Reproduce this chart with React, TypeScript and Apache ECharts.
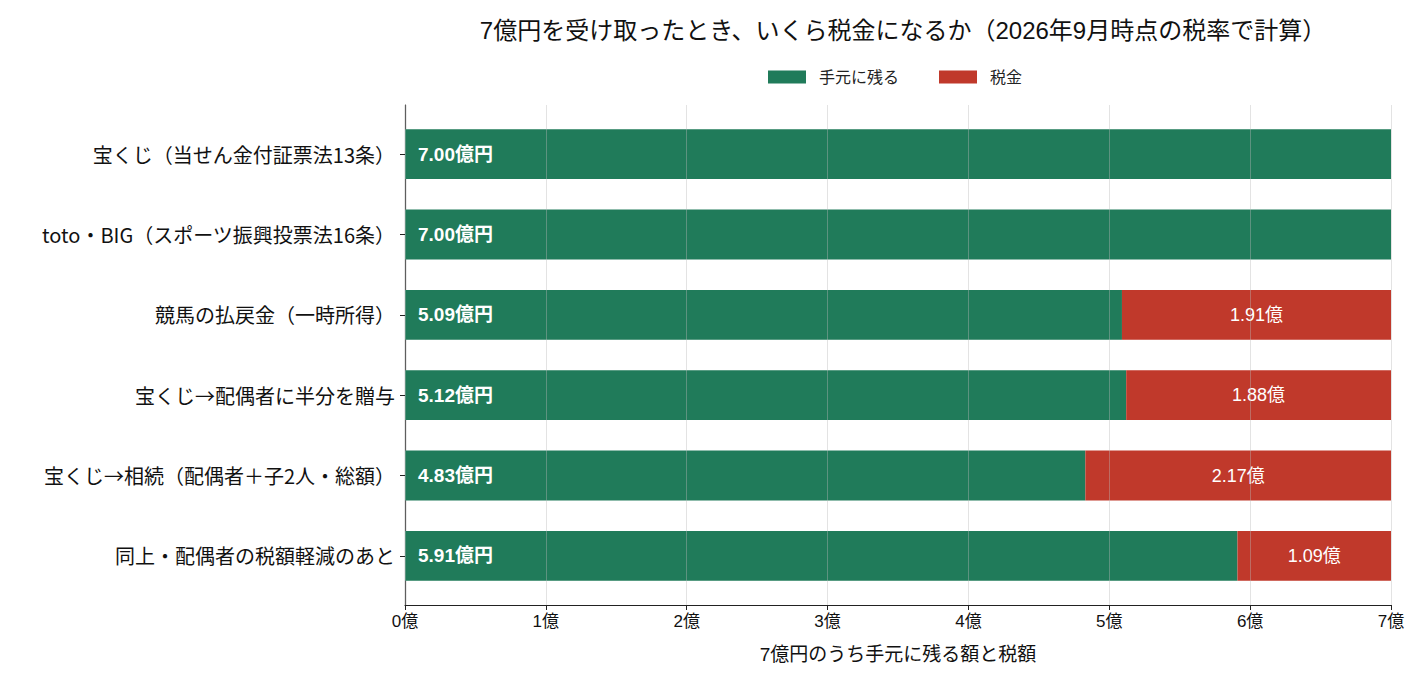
import React, { useEffect, useRef } from 'react';
import * as echarts from 'echarts';

const categories = [
  '宝くじ（当せん金付証票法13条）',
  'toto・BIG（スポーツ振興投票法16条）',
  '競馬の払戻金（一時所得）',
  '宝くじ→配偶者に半分を贈与',
  '宝くじ→相続（配偶者＋子2人・総額）',
  '同上・配偶者の税額軽減のあと',
];
const netValues = [7.0, 7.0, 5.09, 5.12, 4.83, 5.91];
const taxValues = [0, 0, 1.91, 1.88, 2.17, 1.09];
const seriesNames = ['手元に残る', '税金'];
const xMax = 7;

// Helvetica-like latin + CJK fallback
const FONT = '"Liberation Sans", "Noto Sans CJK JP", sans-serif';
// CJK first so the arrows stay full-width
const CJK_FONT = '"Noto Sans CJK JP", "Liberation Sans", sans-serif';
const GREEN = '#207b5a';
const RED = '#c0392b';

export default function App() {
  const chartRef = useRef<HTMLDivElement>(null);

  useEffect(() => {
    if (!chartRef.current) return;
    const chart = echarts.init(chartRef.current, null, { renderer: 'svg' });

    chart.setOption({
      animation: false,
      backgroundColor: '#fff',
      textStyle: { fontFamily: FONT },
      title: {
        text: '7億円を受け取ったとき、いくら税金になるか（2026年9月時点の税率で計算）',
        left: 898,
        textAlign: 'center',
        top: 13,
        textStyle: { fontFamily: FONT, fontSize: 24, fontWeight: 'normal', color: '#111' },
      },
      legend: {
        data: seriesNames,
        top: 64,
        left: 763,
        itemWidth: 38,
        itemHeight: 13,
        itemGap: 40,
        icon: 'rect',
        textStyle: { fontFamily: FONT, fontSize: 16, color: '#222', padding: [0, 0, 0, 8] },
      },
      grid: [
        // bars: categories sit inside the axis frame with a small margin
        { left: 405, right: 37, top: 114, bottom: 90 },
        // axis frame
        { left: 405, right: 37, top: 105, bottom: 81 },
      ],
      xAxis: [
        {
          gridIndex: 0,
          type: 'value',
          min: 0,
          max: xMax,
          interval: 1,
          show: false,
        },
        {
          gridIndex: 1,
          type: 'value',
          min: 0,
          max: xMax,
          interval: 1,
          z: 3,
          name: '7億円のうち手元に残る額と税額',
          nameLocation: 'middle',
          nameGap: 40,
          nameTextStyle: { fontFamily: FONT, fontSize: 19, color: '#111' },
          axisLine: { show: true, lineStyle: { color: '#222', width: 1.2 } },
          axisTick: { show: true, length: 5, lineStyle: { color: '#222' } },
          axisLabel: {
            formatter: (v: number) => `${v}億`,
            fontFamily: FONT,
            fontSize: 17,
            color: '#111',
            margin: 8,
          },
          splitLine: { show: true, lineStyle: { color: 'rgba(185,185,185,0.4)', width: 1 } },
        },
      ],
      yAxis: [
        {
          gridIndex: 0,
          type: 'category',
          data: categories,
          inverse: true,
          axisLine: { show: false },
          axisTick: { show: true, alignWithLabel: true, length: 5, lineStyle: { color: '#222' } },
          axisLabel: { fontFamily: CJK_FONT, fontSize: 20, color: '#111', margin: 10 },
          splitLine: { show: false },
        },
        {
          gridIndex: 1,
          type: 'value',
          min: 0,
          max: 1,
          axisLine: { show: true, lineStyle: { color: '#222', width: 1.2 } },
          axisTick: { show: false },
          axisLabel: { show: false },
          splitLine: { show: false },
        },
      ],
      series: [
        {
          name: seriesNames[0],
          type: 'bar',
          stack: 'total',
          xAxisIndex: 0,
          yAxisIndex: 0,
          barWidth: '62%',
          itemStyle: { color: GREEN },
          label: {
            show: true,
            position: 'insideLeft',
            distance: 13,
            formatter: (p: any) => `${Number(p.value).toFixed(2)}億円`,
            fontFamily: FONT,
            fontSize: 19,
            fontWeight: 'bold',
            color: '#fff',
          },
          data: netValues,
        },
        {
          name: seriesNames[1],
          type: 'bar',
          stack: 'total',
          xAxisIndex: 0,
          yAxisIndex: 0,
          barWidth: '62%',
          itemStyle: { color: RED },
          label: {
            show: true,
            position: 'inside',
            formatter: (p: any) => (p.value > 0 ? `${Number(p.value).toFixed(2)}億` : ''),
            fontFamily: FONT,
            fontSize: 18,
            color: '#fff',
          },
          data: taxValues,
        },
      ],
    });

    return () => chart.dispose();
  }, []);

  return (
    <div
      ref={chartRef}
      style={{ position: 'absolute', left: 0, top: 0, width: 1428, height: 686 }}
    />
  );
}
